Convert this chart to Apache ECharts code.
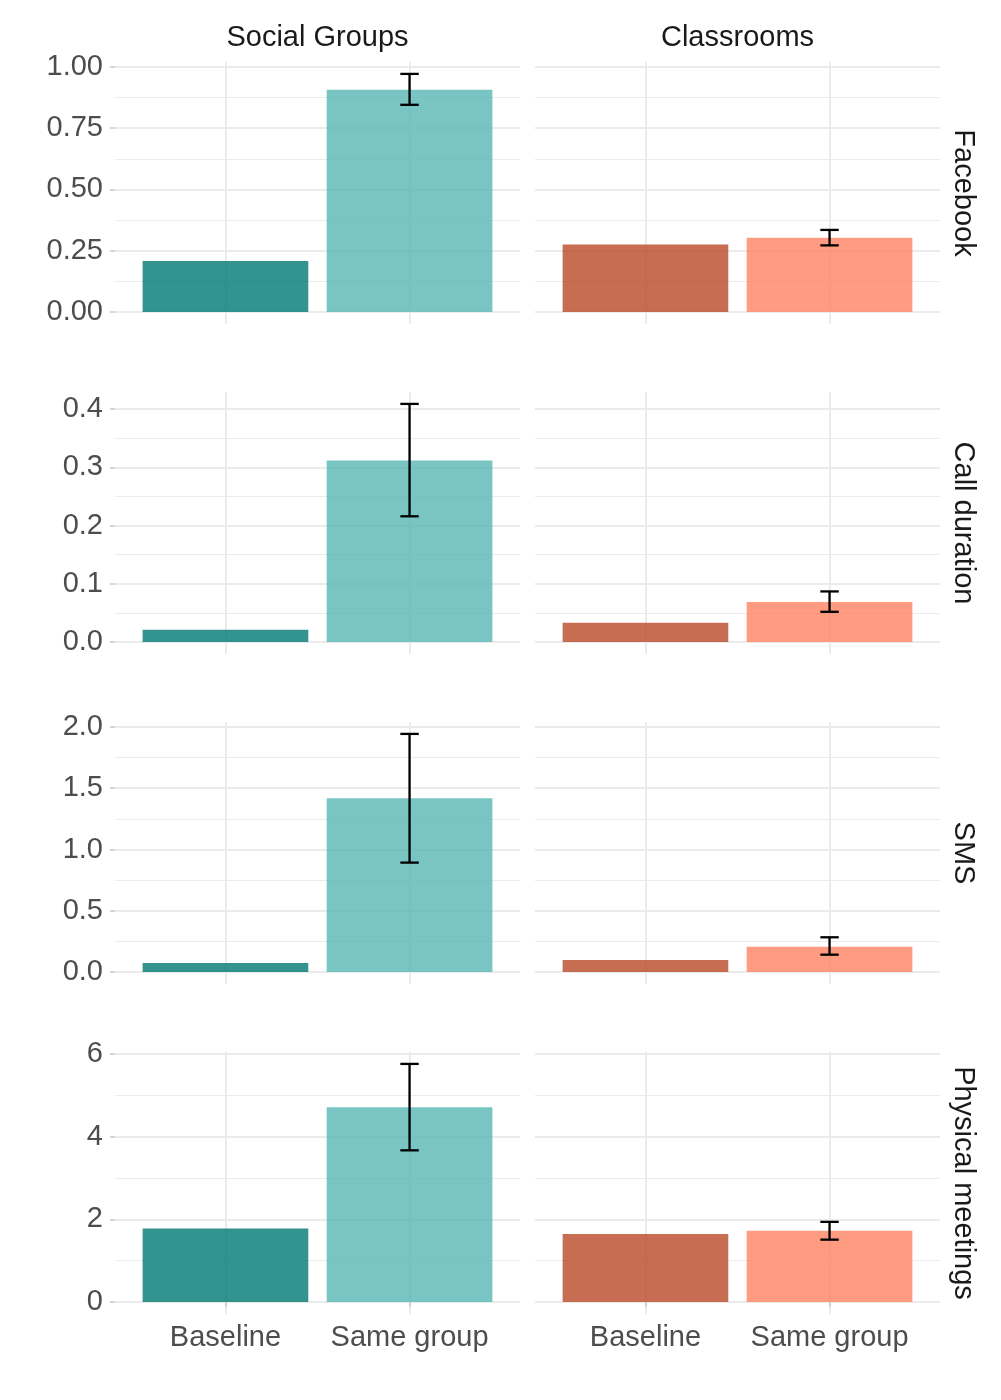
<!DOCTYPE html>
<html>
<head>
<meta charset="utf-8">
<script src="https://cdn.jsdelivr.net/npm/echarts@6/dist/echarts.min.js"></script>
<style>
html, body { margin: 0; padding: 0; background: #fff; }
#chart { width: 1001px; height: 1400px; }
</style>
</head>
<body>
<div id="chart"></div>
<script>
// facet rows / columns / x categories
const measures = ['Facebook', 'Call duration', 'SMS', 'Physical meetings'];
const groups = ['Social Groups', 'Classrooms'];
const conditions = ['Baseline', 'Same group'];

// values per row (Facebook, Call duration, SMS, Physical meetings)
const socialBaseline = [0.208, 0.021, 0.074, 1.78];
const socialSame = [0.906, 0.312, 1.418, 4.71];
const socialSameLow = [0.845, 0.216, 0.893, 3.67];
const socialSameHigh = [0.971, 0.409, 1.943, 5.76];

const classBaseline = [0.276, 0.033, 0.098, 1.645];
const classSame = [0.303, 0.069, 0.207, 1.725];
const classSameLow = [0.272, 0.052, 0.142, 1.51];
const classSameHigh = [0.335, 0.087, 0.284, 1.94];

// y tick labels per row
const rowTicks = [
  [0, 0.25, 0.5, 0.75, 1],
  [0, 0.1, 0.2, 0.3, 0.4],
  [0, 0.5, 1, 1.5, 2],
  [0, 2, 4, 6]
];
const tickDigits = [2, 1, 1, 0];

const colColors = [
  ['rgba(0,120,115,0.8)', 'rgba(86,182,180,0.8)'],
  ['rgba(184,72,39,0.8)', 'rgba(255,130,96,0.8)']
];

const FONT = "'Liberation Sans', Arial, sans-serif";
const FONT_SIZE = 29;
const GRID_COLOR = '#EBEBEB';

let chart = echarts.init(document.getElementById('chart'), null, { renderer: 'canvas' });

let grids = [], xAxes = [], yAxes = [], series = [], graphics = [];

function barItem(params, api) {
  let x = api.value(0), v = api.value(1);
  let p0 = api.coord([x - 0.45, 0]);
  let p1 = api.coord([x + 0.45, v]);
  return {
    type: 'rect',
    shape: { x: p0[0], y: p1[1], width: p1[0] - p0[0], height: p0[1] - p1[1] },
    style: { fill: api.visual('color') }
  };
}

function errItem(params, api) {
  let x = api.value(0), lo = api.value(1), hi = api.value(2);
  let top = api.coord([x, hi]), bot = api.coord([x, lo]);
  let cl = api.coord([x - 0.05, hi])[0], cr = api.coord([x + 0.05, hi])[0];
  let st = { stroke: '#000', lineWidth: 2.3 };
  return {
    type: 'group',
    children: [
      { type: 'line', shape: { x1: top[0], y1: top[1], x2: bot[0], y2: bot[1] }, style: st },
      { type: 'line', shape: { x1: cl, y1: top[1], x2: cr, y2: top[1] }, style: st },
      { type: 'line', shape: { x1: cl, y1: bot[1], x2: cr, y2: bot[1] }, style: st }
    ]
  };
}

for (let r = 0; r < measures.length; r++) {
  // free y scale per row, ggplot-like 5% expansion
  let ymax = Math.max(socialSameHigh[r], classSameHigh[r], socialSame[r], classSame[r]);
  let ticks = rowTicks[r];
  let step = ticks[1] - ticks[0];
  for (let c = 0; c < 2; c++) {
    let idx = grids.length;
    let isBottom = r === measures.length - 1;
    grids.push({
      left: c === 0 ? 115 : 535,
      width: 405,
      top: 62 + 330 * r,
      height: 262,
      containLabel: false,
      outerBoundsMode: 'none'
    });
    xAxes.push({
      type: 'value',
      gridIndex: idx,
      min: 0.4,
      max: 2.6,
      minInterval: 1,
      maxInterval: 1,
      axisLine: { show: false },
      axisTick: {
        show: isBottom, customValues: [1, 2], length: 5,
        lineStyle: { color: '#C8C8C8', width: 1.5 }
      },
      axisLabel: {
        show: isBottom, customValues: [1, 2], margin: 9,
        fontSize: FONT_SIZE, color: '#4D4D4D', fontFamily: FONT,
        formatter: v => conditions[Math.round(v) - 1] || ''
      },
      splitLine: {
        show: true,
        lineStyle: { color: GRID_COLOR, width: 2 }
      }
    });
    yAxes.push({
      type: 'value',
      gridIndex: idx,
      min: -0.05 * ymax,
      max: 1.05 * ymax,
      minInterval: step,
      maxInterval: step,
      axisLine: { show: false },
      axisTick: {
        show: c === 0, customValues: ticks, length: 5,
        lineStyle: { color: '#C8C8C8', width: 1.5 }
      },
      axisLabel: {
        show: c === 0, customValues: ticks, margin: 12,
        fontSize: FONT_SIZE, color: '#4D4D4D', fontFamily: FONT,
        formatter: v => v.toFixed(tickDigits[r])
      },
      splitLine: {
        show: true,
        lineStyle: { color: GRID_COLOR, width: 2 }
      },
      minorTick: { show: false, splitNumber: 2 },
      minorSplitLine: { show: true, lineStyle: { color: GRID_COLOR, width: 1 } }
    });

    let base = c === 0 ? socialBaseline : classBaseline;
    let same = c === 0 ? socialSame : classSame;
    let lo = c === 0 ? socialSameLow : classSameLow;
    let hi = c === 0 ? socialSameHigh : classSameHigh;

    series.push({
      type: 'custom',
      xAxisIndex: idx,
      yAxisIndex: idx,
      renderItem: barItem,
      clip: false,
      silent: true,
      data: [
        { value: [1, base[r]], itemStyle: { color: colColors[c][0] } },
        { value: [2, same[r]], itemStyle: { color: colColors[c][1] } }
      ]
    });
    series.push({
      type: 'custom',
      xAxisIndex: idx,
      yAxisIndex: idx,
      renderItem: errItem,
      clip: false,
      silent: true,
      z: 5,
      data: [[2, lo[r], hi[r]]]
    });
  }
  // row strip label on the right
  graphics.push({
    type: 'text',
    x: 963,
    y: 62 + 330 * r + 131,
    rotation: -Math.PI / 2,
    style: {
      text: measures[r], fontSize: FONT_SIZE, fontFamily: FONT, fill: '#1A1A1A',
      align: 'center', verticalAlign: 'middle'
    }
  });
}

// column strip labels on top
for (let c = 0; c < 2; c++) {
  graphics.push({
    type: 'text',
    x: (c === 0 ? 115 : 535) + 202.5,
    y: 38,
    style: {
      text: groups[c], fontSize: FONT_SIZE, fontFamily: FONT, fill: '#1A1A1A',
      align: 'center', verticalAlign: 'middle'
    }
  });
}

chart.setOption({
  backgroundColor: '#ffffff',
  animation: false,
  grid: grids,
  xAxis: xAxes,
  yAxis: yAxes,
  series: series,
  graphic: graphics
});
</script>
</body>
</html>
